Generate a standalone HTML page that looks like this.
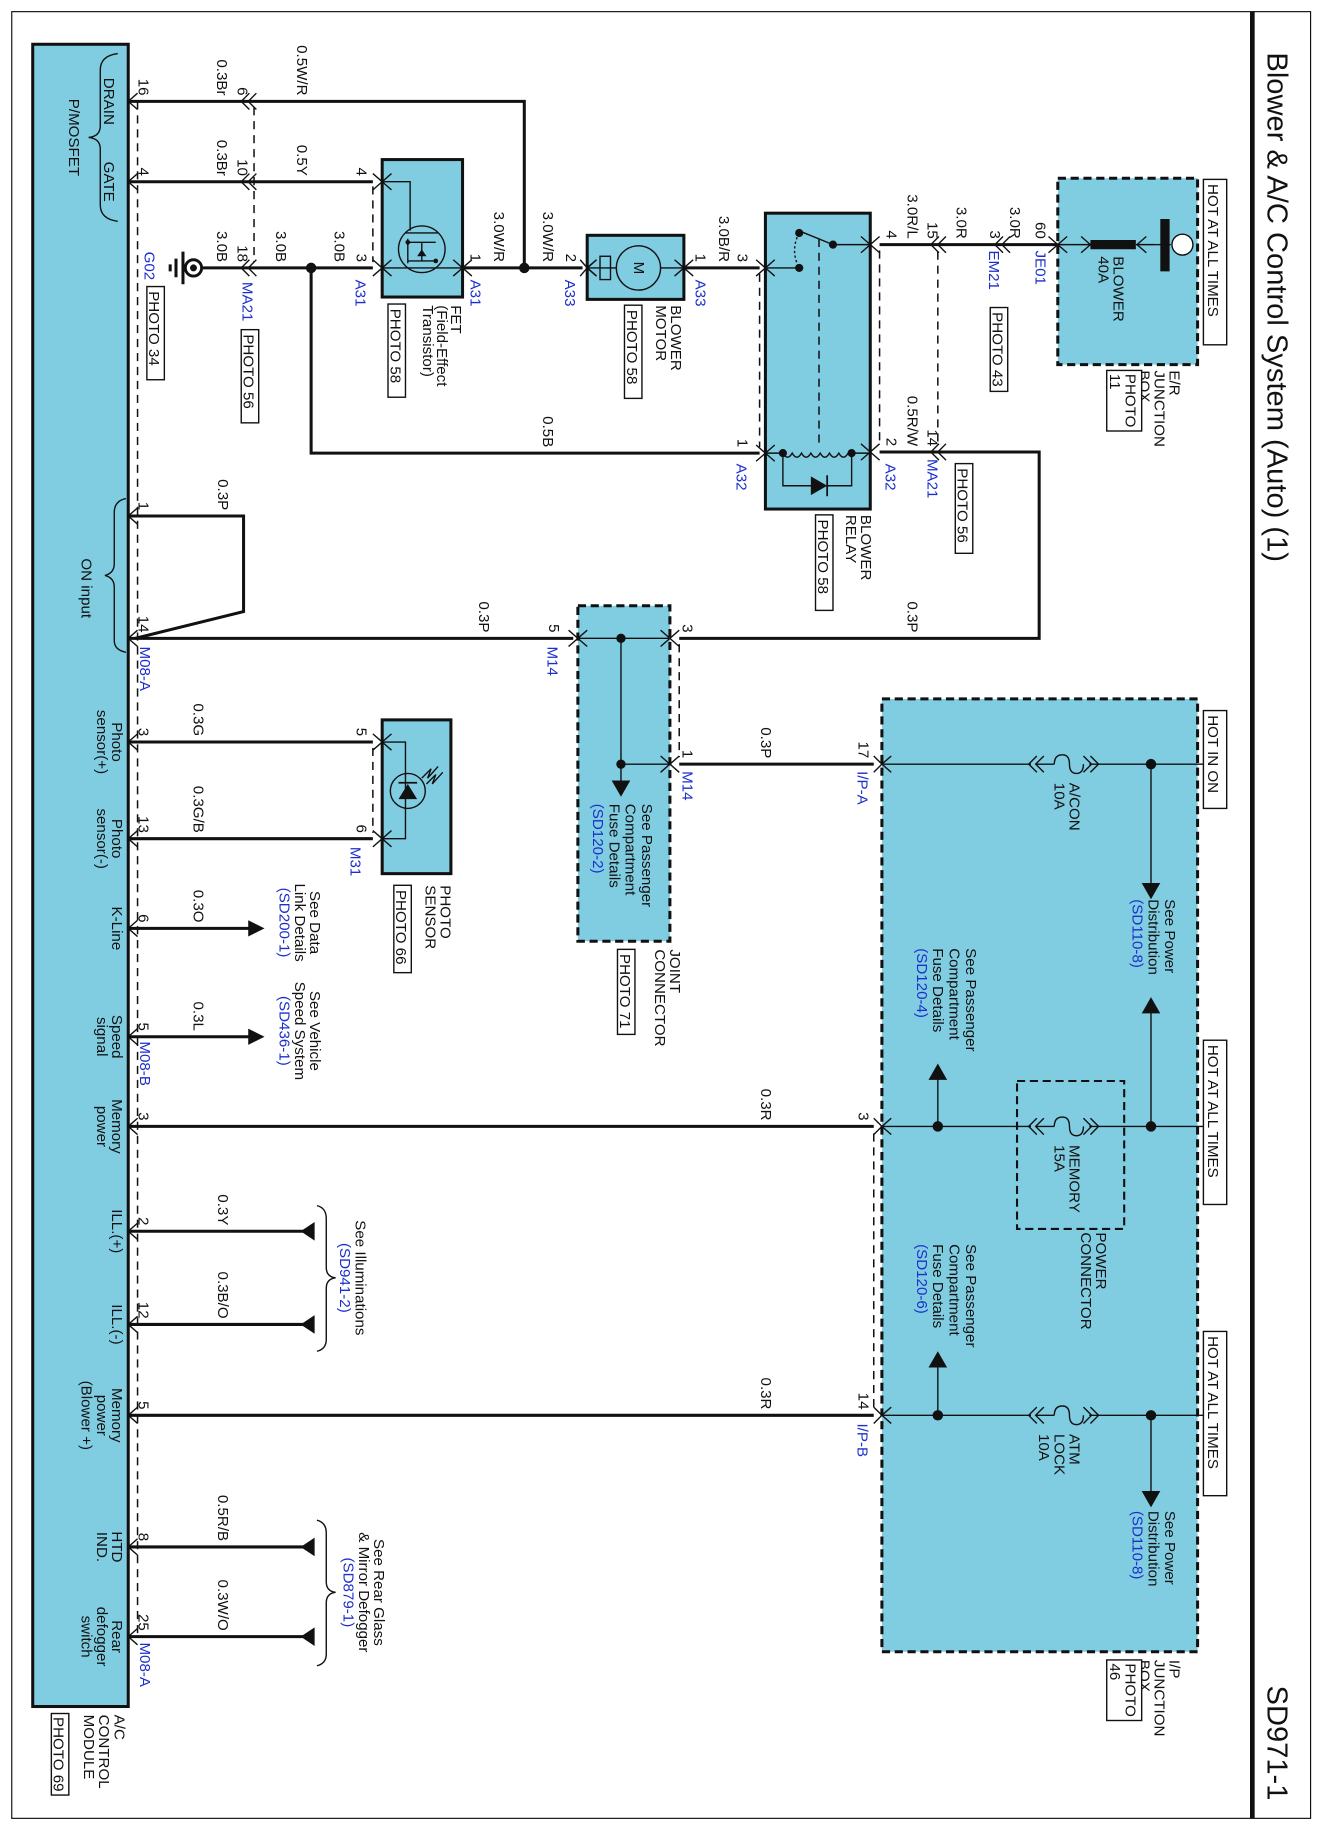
<!DOCTYPE html>
<html><head><meta charset="utf-8"><style>
html,body{margin:0;padding:0;background:#fff;}
svg{display:block;}
text{font-family:"Liberation Sans",sans-serif;font-size:13px;fill:#111;}
.b{fill:#1c2fcc;}
.m{text-anchor:middle;}
.e{text-anchor:end;}
.big{font-size:25px;}
.w{fill:none;stroke:#111;stroke-width:2.6;}
.th{fill:none;stroke:#111;stroke-width:1.2;}
.d{fill:none;stroke:#111;stroke-width:1.3;stroke-dasharray:7 5;}
.bx{fill:#80cde2;stroke:#111;stroke-width:2.6;}
.dbx{fill:#80cde2;stroke:#111;stroke-width:2.6;stroke-dasharray:7 4;}
.pb{fill:#fff;stroke:#111;stroke-width:1.2;}
</style></head><body>
<svg width="1320" height="1830" viewBox="0 0 1133 1571" xmlns="http://www.w3.org/2000/svg">
<rect x="10" y="10" width="1115" height="1551" fill="none" stroke="#111" stroke-width="1"/>
<line x1="1075" y1="10" x2="1075" y2="1561" stroke="#111" stroke-width="4"/>
<text class="big" transform="translate(1088,45) rotate(90)">Blower &amp; A/C Control System (Auto) (1)</text>
<text class="big" transform="translate(1088,1447) rotate(90)">SD971-1</text>

<!-- Module -->
<rect class="bx" x="28" y="38" width="82" height="1427"/>
<line class="d" x1="118" y1="87" x2="118" y2="1405"/>
<path class="th" d="M101 46 Q86 48 86 60 L86 108 Q86 117 76 118 Q86 119 86 128 L86 176 Q86 188 101 190"/>
<text class="m" transform="translate(89,87) rotate(90)">DRAIN</text>
<text class="m" transform="translate(89,156) rotate(90)">GATE</text>
<text class="m" transform="translate(59,118) rotate(90)">P/MOSFET</text>
<path class="th" d="M108 428 Q98 430 98 440 L98 484 Q98 492 90 494 Q98 496 98 504 L98 550 Q98 558 108 560"/>
<text class="m" transform="translate(70,505) rotate(90)">ON input</text>
<text class="m" transform="translate(96,637) rotate(90)">Photo</text><text class="m" transform="translate(83,637) rotate(90)">sensor(+)</text>
<text class="m" transform="translate(96,720) rotate(90)">Photo</text><text class="m" transform="translate(83,720) rotate(90)">sensor(-)</text>
<text class="m" transform="translate(96,797) rotate(90)">K-Line</text>
<text class="m" transform="translate(96,890) rotate(90)">Speed</text><text class="m" transform="translate(83,890) rotate(90)">signal</text>
<text class="m" transform="translate(96,967) rotate(90)">Memory</text><text class="m" transform="translate(83,967) rotate(90)">power</text>
<text class="m" transform="translate(96,1057) rotate(90)">ILL.(+)</text>
<text class="m" transform="translate(96,1137) rotate(90)">ILL.(-)</text>
<text class="m" transform="translate(96,1215) rotate(90)">Memory</text><text class="m" transform="translate(83,1215) rotate(90)">power</text><text class="m" transform="translate(70,1215) rotate(90)">(Blower +)</text>
<text class="m" transform="translate(96,1328) rotate(90)">HTD</text><text class="m" transform="translate(83,1328) rotate(90)">IND.</text>
<text class="m" transform="translate(96,1405) rotate(90)">Rear</text><text class="m" transform="translate(83,1405) rotate(90)">defogger</text><text class="m" transform="translate(70,1405) rotate(90)">switch</text>
<text transform="translate(98,1472) rotate(90)">A/C</text>
<text transform="translate(85,1472) rotate(90)">CONTROL</text>
<text transform="translate(72,1472) rotate(90)">MODULE</text>
<rect class="pb" x="44" y="1471" width="15" height="70"/><text transform="translate(46,1474) rotate(90)">PHOTO 69</text>

<!-- module pin chevrons -->
<path class="th" d="M118 80 L110 87 L118 94 M118 149 L110 156 L118 163 M118 436 L110 443 L118 450 M118 541 L110 548 L118 555 M118 630 L110 637 L118 644 M118 713 L110 720 L118 727 M118 790 L110 797 L118 804 M118 883 L110 890 L118 897 M118 960 L110 967 L118 974 M118 1050 L110 1057 L118 1064 M118 1130 L110 1137 L118 1144 M118 1208 L110 1215 L118 1222 M118 1321 L110 1328 L118 1335 M118 1398 L110 1405 L118 1412"/>

<!-- top wires -->
<path class="w" d="M110 87 H450 V230"/>
<path class="w" d="M110 156 H320"/>
<path class="w" d="M172 230 H320"/>
<path class="w" d="M267 230 V389 H652"/>
<path class="w" d="M397 230 H500"/>
<path class="w" d="M587 230 H652"/>
<circle cx="450" cy="230" r="4.5" fill="#111"/>
<circle cx="267" cy="230" r="4.5" fill="#111"/>
<!-- inline connectors -->
<path class="th" d="M214 80 L207 87 L214 94 M220 80 L213 87 L220 94 M214 149 L207 156 L214 163 M220 149 L213 156 L220 163 M214 223 L207 230 L214 237 M220 223 L213 230 L220 237"/>
<line class="d" x1="218" y1="92" x2="218" y2="225"/>
<!-- ground -->
<circle cx="166" cy="230" r="7" fill="#fff" stroke="#111" stroke-width="2.5"/><circle cx="166" cy="230" r="3" fill="#111"/>
<path class="w" d="M157 216 V244 M151 222 V238 M146 227 V233"/>
<text class="b" transform="translate(124,216) rotate(90)">G02</text>
<rect class="pb" x="126" y="246" width="15" height="80"/><text transform="translate(128,250) rotate(90)">PHOTO 34</text>
<text class="b" transform="translate(208,242) rotate(90)">MA21</text>
<rect class="pb" x="207" y="283" width="15" height="80"/><text transform="translate(209,287) rotate(90)">PHOTO 56</text>
<text class="e" transform="translate(119,82) rotate(90)">16</text>
<text class="e" transform="translate(119,151) rotate(90)">4</text>
<text class="e" transform="translate(204,82) rotate(90)">6</text>
<text class="e" transform="translate(204,151) rotate(90)">10</text>
<text class="e" transform="translate(204,225) rotate(90)">18</text>
<text class="e" transform="translate(186,82) rotate(90)">0.3Br</text>
<text class="e" transform="translate(186,151) rotate(90)">0.3Br</text>
<text class="e" transform="translate(255,82) rotate(90)">0.5W/R</text>
<text class="e" transform="translate(255,151) rotate(90)">0.5Y</text>
<text class="e" transform="translate(186,225) rotate(90)">3.0B</text>
<text class="e" transform="translate(237,225) rotate(90)">3.0B</text>
<text class="e" transform="translate(287,225) rotate(90)">3.0B</text>
<text class="e" transform="translate(424,225) rotate(90)">3.0W/R</text>
<text class="e" transform="translate(466,225) rotate(90)">3.0W/R</text>
<text class="e" transform="translate(466,384) rotate(90)">0.5B</text>

<!-- FET -->
<rect class="bx" x="328" y="137" width="69" height="118"/>
<path class="th" d="M328 156 L336 149 M328 156 L336 163 M328 156 H352 V198"/>
<path class="th" d="M328 230 H397 M336 223 L328 230 L336 237 M389 223 L397 230 L389 237"/>
<circle cx="362" cy="214" r="20" fill="none" stroke="#111" stroke-width="1.2"/>
<path class="th" d="M348 200 H376 M350 205 V226 M350 208 H374 M350 224 H374 M362 208 V224"/>
<circle cx="350" cy="208" r="2" fill="#111"/><circle cx="374" cy="224" r="2" fill="#111"/>
<polygon points="358,220 366,220 362,214" fill="#111"/>
<path class="th" d="M320 149 L328 156 L320 163 M320 223 L328 230 L320 237"/>
<path class="th" d="M405 223 L397 230 L405 237"/>
<line class="d" x1="320" y1="160" x2="320" y2="225"/>
<text class="e" transform="translate(306,151) rotate(90)">4</text>
<text class="e" transform="translate(306,225) rotate(90)">3</text>
<text class="b" transform="translate(305,240) rotate(90)">A31</text>
<text class="e" transform="translate(404,225) rotate(90)">1</text>
<text class="b" transform="translate(404,240) rotate(90)">A31</text>
<text transform="translate(387,262) rotate(90)">FET</text>
<text transform="translate(375,262) rotate(90)">(Field-Effect</text>
<text transform="translate(363,262) rotate(90)">Transistor)</text>
<rect class="pb" x="333" y="261" width="15" height="80"/><text transform="translate(335,265) rotate(90)">PHOTO 58</text>

<!-- Motor -->
<rect class="bx" x="504" y="202" width="83" height="55"/>
<circle cx="548" cy="230" r="19" fill="none" stroke="#111" stroke-width="1.2"/>
<rect x="515" y="220" width="9" height="20" fill="none" stroke="#111" stroke-width="1.2"/>
<text class="m" transform="translate(544,230) rotate(90)">M</text>
<path class="th" d="M504 230 H529 M512 223 L504 230 L512 237 M567 230 H587 M579 223 L587 230 L579 237"/>
<path class="th" d="M512 223 L504 230 L512 237" />
<path class="th" d="M498 223 L504 230 L498 237 M595 223 L587 230 L595 237"/>
<text class="e" transform="translate(486,225) rotate(90)">2</text>
<text class="b" transform="translate(485,240) rotate(90)">A33</text>
<text class="e" transform="translate(597,225) rotate(90)">1</text>
<text class="b" transform="translate(597,240) rotate(90)">A33</text>
<text transform="translate(576,262) rotate(90)">BLOWER</text>
<text transform="translate(563,262) rotate(90)">MOTOR</text>
<rect class="pb" x="536" y="262" width="15" height="80"/><text transform="translate(538,266) rotate(90)">PHOTO 58</text>
<text class="e" transform="translate(617,225) rotate(90)">3.0B/R</text>

<!-- Relay -->
<rect class="bx" x="657" y="183" width="90" height="254"/>
<path class="th" d="M649 223 L657 230 L649 237 M649 382 L657 389 L649 396 M755 203 L747 210 L755 217 M755 381 L747 388 L755 395"/>
<path class="th" d="M657 230 H686 M665 223 L657 230 L665 237 M747 210 H715 M739 203 L747 210 L739 217 M715 210 L688 199"/>
<circle cx="686" cy="230" r="3.5" fill="#111"/><circle cx="686" cy="200" r="3.5" fill="#111"/><circle cx="715" cy="210" r="3.5" fill="#111"/>
<path d="M686 200 Q678 215 686 230" fill="none" stroke="#111" stroke-width="1.2" stroke-dasharray="2 2"/>
<line class="d" x1="703" y1="205" x2="703" y2="385"/>
<path class="th" d="M657 389 H672 Q676 396 680 389 Q684 396 688 389 Q692 396 696 389 Q700 396 704 389 Q708 396 712 389 Q716 396 720 389 Q724 396 728 389 H747 M665 382 L657 389 L665 396 M739 381 L747 388 L739 395"/>
<circle cx="672" cy="389" r="3.5" fill="#111"/><circle cx="731" cy="389" r="3.5" fill="#111"/>
<path class="th" d="M672 389 V417 H731 V389"/>
<polygon points="696,409 696,425 710,417" fill="#111"/><line x1="710" y1="408" x2="710" y2="426" stroke="#111" stroke-width="1.5"/>
<line class="d" x1="652" y1="235" x2="652" y2="384"/>
<line class="d" x1="755" y1="215" x2="755" y2="383"/>
<text class="e" transform="translate(633,225) rotate(90)">3</text>
<text class="e" transform="translate(633,384) rotate(90)">1</text>
<text class="b" transform="translate(632,398) rotate(90)">A32</text>
<text class="e" transform="translate(761,205) rotate(90)">4</text>
<text class="e" transform="translate(761,383) rotate(90)">2</text>
<text class="b" transform="translate(760,398) rotate(90)">A32</text>
<text transform="translate(739,442) rotate(90)">BLOWER</text>
<text transform="translate(726,442) rotate(90)">RELAY</text>
<rect class="pb" x="700" y="442" width="15" height="82"/><text transform="translate(702,446) rotate(90)">PHOTO 58</text>

<!-- right of relay -->
<path class="w" d="M755 210 H908"/>
<path class="w" d="M755 388 H892 V548 H583"/>
<path class="th" d="M806 203 L799 210 L806 217 M812 203 L805 210 L812 217 M861 203 L854 210 L861 217 M867 203 L860 210 L867 217 M806 381 L799 388 L806 395 M812 381 L805 388 L812 395"/>
<line class="d" x1="805" y1="216" x2="805" y2="382"/>
<text class="e" transform="translate(779,205) rotate(90)">3.0R/L</text>
<text class="e" transform="translate(796,205) rotate(90)">15</text>
<text class="e" transform="translate(821,205) rotate(90)">3.0R</text>
<text class="e" transform="translate(850,205) rotate(90)">3</text>
<text class="e" transform="translate(867,205) rotate(90)">3.0R</text>
<text class="e" transform="translate(889,205) rotate(90)">60</text>
<text class="b" transform="translate(849,215) rotate(90)">EM21</text>
<rect class="pb" x="850" y="264" width="15" height="72"/><text transform="translate(852,268) rotate(90)">PHOTO 43</text>
<text class="b" transform="translate(889,215) rotate(90)">JE01</text>
<text class="e" transform="translate(779,383) rotate(90)">0.5R/W</text>
<text class="e" transform="translate(796,383) rotate(90)">14</text>
<text class="b" transform="translate(796,394) rotate(90)">MA21</text>
<rect class="pb" x="820" y="398" width="15" height="77"/><text transform="translate(822,402) rotate(90)">PHOTO 56</text>
<text class="e" transform="translate(779,543) rotate(90)">0.3P</text>

<!-- E/R box -->
<rect class="dbx" x="908" y="153" width="120" height="160"/>
<path class="th" d="M900 203 L908 210 L900 217 M916 203 L908 210 L916 217 M908 210 H936 M928 203 L936 210 L928 217 M975 210 H992 M984 203 L976 210 L984 217"/>
<line x1="936" y1="210" x2="975" y2="210" stroke="#111" stroke-width="8"/>
<line x1="1000" y1="188" x2="1000" y2="233" stroke="#111" stroke-width="8"/>
<line x1="992" y1="210" x2="1005" y2="210" stroke="#111" stroke-width="1.2"/>
<circle cx="1015" cy="210" r="9" fill="#fff" stroke="#111" stroke-width="1.2"/>
<text transform="translate(956,220) rotate(90)">BLOWER</text>
<text transform="translate(943,220) rotate(90)">40A</text>
<rect class="pb" x="1033" y="154" width="20" height="142"/><text transform="translate(1037,158) rotate(90)">HOT AT ALL TIMES</text>
<text transform="translate(1004,318) rotate(90)">E/R</text>
<text transform="translate(991,318) rotate(90)">JUNCTION</text>
<text transform="translate(978,318) rotate(90)">BOX</text>
<rect class="pb" x="950" y="318" width="30" height="52"/>
<text transform="translate(966,321) rotate(90)">PHOTO</text><text transform="translate(953,321) rotate(90)">11</text>

<!-- ON input wires -->
<path class="w" d="M110 443 H209 V525 L116 548"/>
<path class="w" d="M110 548 H492"/>
<text class="e" transform="translate(119,438) rotate(90)">1</text>
<text class="e" transform="translate(119,543) rotate(90)">14</text>
<text class="b" transform="translate(120,555) rotate(90)">M08-A</text>
<text class="e" transform="translate(187,438) rotate(90)">0.3P</text>
<text class="e" transform="translate(411,543) rotate(90)">0.3P</text>

<!-- joint connector -->
<rect class="dbx" x="496" y="520" width="79" height="288"/>
<path class="th" d="M488 541 L496 548 L488 555 M583 541 L575 548 L583 555 M583 649 L575 656 L583 663"/>
<path class="th" d="M496 548 H575 M504 541 L496 548 L504 555 M567 541 L575 548 L567 555 M533 548 V672 M533 656 H575 M567 649 L575 656 L567 663"/>
<circle cx="533" cy="548" r="4" fill="#111"/><circle cx="533" cy="656" r="4" fill="#111"/>
<polygon points="525,670 541,670 533,684" fill="#111"/>
<line class="d" x1="583" y1="553" x2="583" y2="650"/>
<text class="e" transform="translate(471,543) rotate(90)">5</text>
<text class="b" transform="translate(470,555) rotate(90)">M14</text>
<text class="e" transform="translate(586,543) rotate(90)">3</text>
<text class="e" transform="translate(586,651) rotate(90)">1</text>
<text class="b" transform="translate(586,662) rotate(90)">M14</text>
<text transform="translate(551,690) rotate(90)">See Passenger</text>
<text transform="translate(537,690) rotate(90)">Compartment</text>
<text transform="translate(523,690) rotate(90)">Fuse Details</text>
<text class="b" transform="translate(509,690) rotate(90)">(SD120-2)</text>
<text transform="translate(575,815) rotate(90)">JOINT</text>
<text transform="translate(562,815) rotate(90)">CONNECTOR</text>
<rect class="pb" x="530" y="815" width="15" height="73"/><text transform="translate(532,819) rotate(90)">PHOTO 71</text>
<path class="w" d="M583 656 H750"/>
<text class="e" transform="translate(653,651) rotate(90)">0.3P</text>

<!-- photo sensor -->
<path class="w" d="M110 637 H320 M110 720 H320"/>
<rect class="bx" x="328" y="618" width="59" height="132"/>
<path class="th" d="M320 630 L328 637 L320 644 M320 713 L328 720 L320 727 M328 637 H348 V720 H328 M336 630 L328 637 L336 644 M336 713 L328 720 L336 727"/>
<circle cx="350" cy="679" r="15" fill="none" stroke="#111" stroke-width="1.2"/>
<polygon points="342,686 358,686 350,673" fill="#111"/><line x1="342" y1="672" x2="358" y2="672" stroke="#111" stroke-width="1.5"/>
<path class="th" d="M362 668 L370 660 L367 668 L376 658 M366 673 L374 665 L371 673 L380 663"/>
<line class="d" x1="320" y1="642" x2="320" y2="715"/>
<text class="e" transform="translate(306,632) rotate(90)">5</text>
<text class="e" transform="translate(306,715) rotate(90)">6</text>
<text class="b" transform="translate(301,727) rotate(90)">M31</text>
<text class="e" transform="translate(119,632) rotate(90)">3</text>
<text class="e" transform="translate(119,715) rotate(90)">13</text>
<text class="e" transform="translate(166,632) rotate(90)">0.3G</text>
<text class="e" transform="translate(166,715) rotate(90)">0.3G/B</text>
<text transform="translate(378,760) rotate(90)">PHOTO</text>
<text transform="translate(365,760) rotate(90)">SENSOR</text>
<rect class="pb" x="338" y="760" width="15" height="75"/><text transform="translate(340,764) rotate(90)">PHOTO 66</text>

<!-- K-line & speed -->
<path class="w" d="M110 797 H215 M110 890 H215"/>
<polygon points="227,797 213,790 213,804" fill="#111"/>
<polygon points="227,890 213,883 213,897" fill="#111"/>
<text class="e" transform="translate(119,792) rotate(90)">6</text>
<text class="e" transform="translate(166,792) rotate(90)">0.3O</text>
<text class="e" transform="translate(119,885) rotate(90)">5</text>
<text class="b" transform="translate(120,894) rotate(90)">M08-B</text>
<text class="e" transform="translate(166,885) rotate(90)">0.3L</text>
<text class="m" transform="translate(266,792) rotate(90)">See Data</text>
<text class="m" transform="translate(253,792) rotate(90)">Link Details</text>
<text class="b m" transform="translate(240,792) rotate(90)">(SD200-1)</text>
<text class="m" transform="translate(266,885) rotate(90)">See Vehicle</text>
<text class="m" transform="translate(253,885) rotate(90)">Speed System</text>
<text class="b m" transform="translate(240,885) rotate(90)">(SD436-1)</text>

<!-- memory rows -->
<path class="w" d="M110 967 H750 M110 1215 H750"/>
<text class="e" transform="translate(119,962) rotate(90)">3</text>
<text class="e" transform="translate(653,962) rotate(90)">0.3R</text>
<text class="e" transform="translate(737,962) rotate(90)">3</text>
<text class="e" transform="translate(119,1210) rotate(90)">5</text>
<text class="e" transform="translate(653,1210) rotate(90)">0.3R</text>
<text class="e" transform="translate(737,1210) rotate(90)">14</text>
<text class="b" transform="translate(736,1222) rotate(90)">I/P-B</text>
<line class="d" x1="750" y1="973" x2="750" y2="1209"/>

<!-- ILL -->
<path class="w" d="M110 1057 H262 M110 1137 H262"/>
<polygon points="258,1057 270,1049 270,1065" fill="#111"/>
<polygon points="258,1137 270,1129 270,1145" fill="#111"/>
<path class="th" d="M272 1035 Q280 1037 280 1046 L280 1088 Q280 1096 288 1097 Q280 1098 280 1106 L280 1150 Q280 1158 272 1160"/>
<text class="e" transform="translate(119,1052) rotate(90)">2</text>
<text class="e" transform="translate(187,1052) rotate(90)">0.3Y</text>
<text class="e" transform="translate(119,1132) rotate(90)">12</text>
<text class="e" transform="translate(187,1132) rotate(90)">0.3B/O</text>
<text class="m" transform="translate(305,1097) rotate(90)">See Illuminations</text>
<text class="b m" transform="translate(292,1097) rotate(90)">(SD941-2)</text>

<!-- HTD / rear -->
<path class="w" d="M110 1328 H262 M110 1405 H262"/>
<polygon points="258,1328 270,1320 270,1336" fill="#111"/>
<polygon points="258,1405 270,1397 270,1413" fill="#111"/>
<path class="th" d="M272 1305 Q280 1307 280 1316 L280 1358 Q280 1366 288 1367 Q280 1368 280 1376 L280 1420 Q280 1428 272 1430"/>
<text class="e" transform="translate(119,1323) rotate(90)">8</text>
<text class="e" transform="translate(187,1323) rotate(90)">0.5R/B</text>
<text class="e" transform="translate(119,1400) rotate(90)">25</text>
<text class="b" transform="translate(120,1410) rotate(90)">M08-A</text>
<text class="e" transform="translate(187,1400) rotate(90)">0.3W/O</text>
<text class="m" transform="translate(321,1367) rotate(90)">See Rear Glass</text>
<text class="m" transform="translate(308,1367) rotate(90)">&amp; Mirror Defogger</text>
<text class="b m" transform="translate(295,1367) rotate(90)">(SD879-1)</text>

<!-- I/P junction box -->
<rect class="dbx" x="757" y="600" width="271" height="818"/>
<rect x="873" y="928" width="92" height="127" fill="none" stroke="#111" stroke-width="1.8" stroke-dasharray="7 4"/>
<path class="th" d="M757 656 H885 M935 656 H1040 M757 967 H885 M935 967 H1040 M757 1215 H885 M935 1215 H1040"/>
<g class="th">
<path class="th" d="M765 649 L757 656 L765 663 M765 960 L757 967 L765 974 M765 1208 L757 1215 L765 1222"/>
<path class="th" d="M750 649 L757 656 L750 663 M750 960 L757 967 L750 974 M750 1208 L757 1215 L750 1222"/>
<path class="th" d="M890 649 L883 656 L890 663 M896 649 L889 656 L896 663 M930 649 L937 656 L930 663 M936 649 L943 656 L936 663 M905 656 Q905 648 912 648 Q918 648 918 656 Q918 664 924 664 Q930 664 930 656 M889 656 H905"/>
<path class="th" d="M890 960 L883 967 L890 974 M896 960 L889 967 L896 974 M930 960 L937 967 L930 974 M936 960 L943 967 L936 974 M905 967 Q905 959 912 959 Q918 959 918 967 Q918 975 924 975 Q930 975 930 967 M889 967 H905"/>
<path class="th" d="M890 1208 L883 1215 L890 1222 M896 1208 L889 1215 L896 1222 M930 1208 L937 1215 L930 1222 M936 1208 L943 1215 L936 1222 M905 1215 Q905 1207 912 1207 Q918 1207 918 1215 Q918 1223 924 1223 Q930 1223 930 1215 M889 1215 H905"/>
</g>
<path class="th" d="M988 656 V760 M988 967 V868 M988 1215 V1282 M805 967 V925 M805 1215 V1172"/>
<circle cx="988" cy="656" r="4.5" fill="#111"/><circle cx="988" cy="967" r="4.5" fill="#111"/><circle cx="988" cy="1215" r="4.5" fill="#111"/>
<circle cx="805" cy="967" r="4.5" fill="#111"/><circle cx="805" cy="1215" r="4.5" fill="#111"/>
<polygon points="980,758 996,758 988,772" fill="#111"/>
<polygon points="980,870 996,870 988,856" fill="#111"/>
<polygon points="980,1280 996,1280 988,1294" fill="#111"/>
<polygon points="797,927 813,927 805,913" fill="#111"/>
<polygon points="797,1174 813,1174 805,1160" fill="#111"/>
<text class="e" transform="translate(737,651) rotate(90)">17</text>
<text class="b" transform="translate(736,662) rotate(90)">I/P-A</text>
<text transform="translate(918,672) rotate(90)">A/CON</text><text transform="translate(905,672) rotate(90)">10A</text>
<text transform="translate(918,983) rotate(90)">MEMORY</text><text transform="translate(905,983) rotate(90)">15A</text>
<text transform="translate(918,1231) rotate(90)">ATM</text><text transform="translate(905,1231) rotate(90)">LOCK</text><text transform="translate(892,1231) rotate(90)">10A</text>
<text transform="translate(1000,772) rotate(90)">See Power</text>
<text transform="translate(986,772) rotate(90)">Distribution</text>
<text class="b" transform="translate(972,772) rotate(90)">(SD110-8)</text>
<text transform="translate(1000,1297) rotate(90)">See Power</text>
<text transform="translate(986,1297) rotate(90)">Distribution</text>
<text class="b" transform="translate(972,1297) rotate(90)">(SD110-8)</text>
<text transform="translate(829,814) rotate(90)">See Passenger</text>
<text transform="translate(815,814) rotate(90)">Compartment</text>
<text transform="translate(801,814) rotate(90)">Fuse Details</text>
<text class="b" transform="translate(787,814) rotate(90)">(SD120-4)</text>
<text transform="translate(829,1068) rotate(90)">See Passenger</text>
<text transform="translate(815,1068) rotate(90)">Compartment</text>
<text transform="translate(801,1068) rotate(90)">Fuse Details</text>
<text class="b" transform="translate(787,1068) rotate(90)">(SD120-6)</text>
<text transform="translate(941,1058) rotate(90)">POWER</text>
<text transform="translate(928,1058) rotate(90)">CONNECTOR</text>
<rect class="pb" x="1033" y="610" width="20" height="84"/><text transform="translate(1037,614) rotate(90)">HOT IN ON</text>
<rect class="pb" x="1033" y="893" width="20" height="141"/><text transform="translate(1037,897) rotate(90)">HOT AT ALL TIMES</text>
<rect class="pb" x="1033" y="1143" width="20" height="141"/><text transform="translate(1037,1147) rotate(90)">HOT AT ALL TIMES</text>
<text transform="translate(1004,1425) rotate(90)">I/P</text>
<text transform="translate(991,1425) rotate(90)">JUNCTION</text>
<text transform="translate(978,1425) rotate(90)">BOX</text>
<rect class="pb" x="950" y="1425" width="30" height="52"/>
<text transform="translate(966,1428) rotate(90)">PHOTO</text><text transform="translate(953,1428) rotate(90)">46</text>
</svg>
</body></html>
